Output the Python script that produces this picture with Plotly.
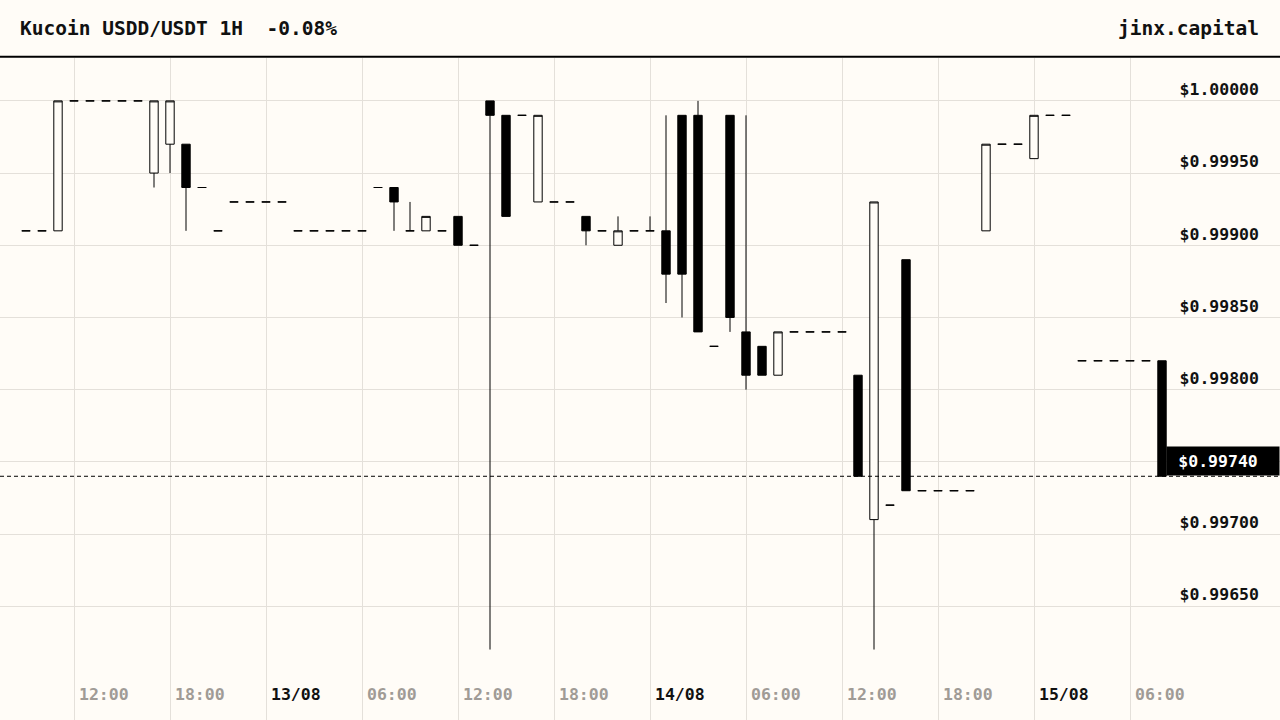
import pandas as pd
import plotly.graph_objects as go

FONT = "DejaVu Sans Mono"
BG = "#fffcf7"
GRID = "#e4e0da"
GRAY = "#a09b96"

# hourly candles, first one opens 12/08 09:00
start = "2022-08-12 09:00"
opens = [
    .9991, .9991, .9991, 1, 1, 1, 1, 1, .9995, .9997,
    .9997, .9994, .9991, .9993, .9993, .9993, .9993, .9991, .9991, .9991,
    .9991, .9991, .9994, .9994, .9991, .9991, .9991, .9992, .9990, 1,
    .9999, .9999, .9993, .9993, .9993, .9992, .9991, .9990, .9991, .9991,
    .9991, .9999, .9999, .9983, .9999, .9984, .9983, .9981, .9984, .9984,
    .9984, .9984, .9981, .9971, .9972, .9989, .9973, .9973, .9973, .9973,
    .9991, .9997, .9997, .9996, .9999, .9999, .9982, .9982, .9982, .9982,
    .9982, .9982,
]
highs = [
    .9991, .9991, 1, 1, 1, 1, 1, 1, 1, 1,
    .9997, .9994, .9991, .9993, .9993, .9993, .9993, .9991, .9991, .9991,
    .9991, .9991, .9994, .9994, .9993, .9992, .9991, .9992, .9990, 1,
    .9999, .9999, .9999, .9993, .9993, .9992, .9991, .9992, .9991, .9992,
    .9999, .9999, 1, .9983, .9999, .9999, .9983, .9984, .9984, .9984,
    .9984, .9984, .9981, .9993, .9972, .9989, .9973, .9973, .9973, .9973,
    .9997, .9997, .9997, .9999, .9999, .9999, .9982, .9982, .9982, .9982,
    .9982, .9982,
]
lows = [
    .9991, .9991, .9991, 1, 1, 1, 1, 1, .9994, .9995,
    .9991, .9994, .9991, .9993, .9993, .9993, .9993, .9991, .9991, .9991,
    .9991, .9991, .9994, .9991, .9991, .9991, .9991, .9990, .9990, .9962,
    .9992, .9999, .9993, .9993, .9993, .9990, .9991, .9990, .9991, .9991,
    .9986, .9985, .9984, .9983, .9984, .9980, .9981, .9981, .9984, .9984,
    .9984, .9984, .9974, .9962, .9972, .9973, .9973, .9973, .9973, .9973,
    .9991, .9997, .9997, .9996, .9999, .9999, .9982, .9982, .9982, .9982,
    .9982, .9974,
]
closes = [
    .9991, .9991, 1, 1, 1, 1, 1, 1, 1, 1,
    .9994, .9994, .9991, .9993, .9993, .9993, .9993, .9991, .9991, .9991,
    .9991, .9991, .9994, .9993, .9991, .9992, .9991, .9990, .9990, .9999,
    .9992, .9999, .9999, .9993, .9993, .9991, .9991, .9991, .9991, .9991,
    .9988, .9988, .9984, .9983, .9985, .9981, .9981, .9984, .9984, .9984,
    .9984, .9984, .9974, .9993, .9972, .9973, .9973, .9973, .9973, .9973,
    .9997, .9997, .9997, .9999, .9999, .9999, .9982, .9982, .9982, .9982,
    .9982, .9974,
]

x_ticks = pd.date_range("2022-08-12 12:00", periods=12, freq="6h")
x_labels = ["12:00", "18:00", "13/08", "06:00", "12:00", "18:00",
            "14/08", "06:00", "12:00", "18:00", "15/08", "06:00"]
y_ticks = [0.9965, 0.9970, 0.9975, 0.9980, 0.9985, 0.9990, 0.9995, 1.0000]
y_labels = ["$0.99650", "$0.99700", "", "$0.99800", "$0.99850",
            "$0.99900", "$0.99950", "$1.00000"]

times = pd.date_range(start, periods=len(opens), freq="h")
last = closes[-1]
change = (closes[-1] / opens[-1] - 1) * 100

fig = go.Figure(go.Candlestick(
    x=times, open=opens, high=highs, low=lows, close=closes,
    increasing=dict(line=dict(color="black", width=1), fillcolor=BG),
    decreasing=dict(line=dict(color="black", width=1), fillcolor="black"),
    hoverinfo="skip",
))

# colour the tick text: dates black, times gray
tick_text = [lab if "/" in lab else f"<span style='color:{GRAY}'>{lab}</span>"
             for lab in x_labels]

fig.update_layout(
    width=1280, height=720,
    margin=dict(l=0, r=0, t=58, b=0),
    paper_bgcolor=BG, plot_bgcolor=BG,
    showlegend=False,
    boxgap=0.25,
    font=dict(family=FONT, color="#111111"),
    xaxis=dict(
        range=[times[0] - pd.Timedelta(minutes=97.5), times[0] + pd.Timedelta(minutes=78.375 * 60)],
        rangeslider=dict(visible=False),
        tickvals=x_ticks, ticktext=tick_text,
        ticklabelposition="inside right", ticklabelshift=5, ticklabelstandoff=11,
        tickfont=dict(family=FONT, size=16.5, weight="bold", color="#111111"),
        showgrid=True, gridcolor=GRID, gridwidth=1,
        showline=False, zeroline=False, ticks="",
    ),
    yaxis=dict(
        range=[0.995712, 1.000297],
        side="right",
        tickvals=y_ticks, ticktext=y_labels,
        ticklabelposition="inside top", ticklabelstandoff=18,
        tickfont=dict(family=FONT, size=16.5, weight="bold", color="#111111"),
        showgrid=True, gridcolor=GRID, gridwidth=1,
        showline=False, zeroline=False, ticks="",
    ),
    shapes=[
        dict(type="line", xref="paper", yref="y", x0=0, x1=1, y0=last, y1=last,
             line=dict(color="black", width=1, dash="4px,3px"), layer="above"),
        dict(type="line", xref="paper", yref="paper", x0=0, x1=1, y0=1.002, y1=1.002,
             line=dict(color="black", width=2)),
    ],
    annotations=[
        dict(text=f"Kucoin USDD/USDT 1H  {change:.2f}%", xref="paper", yref="paper",
             x=18 / 1280, y=1 + 30 / 662, xanchor="left", yanchor="middle", showarrow=False,
             font=dict(family=FONT, size=19.5, weight="bold", color="#111111")),
        dict(text="jinx.capital", xref="paper", yref="paper",
             x=1 - 19 / 1280, y=1 + 30 / 662, xanchor="right", yanchor="middle", showarrow=False,
             font=dict(family=FONT, size=19.5, weight="bold", color="#111111")),
        dict(text=f"${last:.5f}\u00a0", xref="paper", yref="y", x=1, y=last,
             xanchor="right", yanchor="bottom", showarrow=False,
             width=112, height=28, align="center", bgcolor="black", borderpad=0,
             font=dict(family=FONT, size=16.5, weight="bold", color="white")),
    ],
)

# the page's default body margin would shift the figure by 8px
fig.write_html("out.html", config={"displayModeBar": False},
               post_script="document.body.style.margin='0';")
